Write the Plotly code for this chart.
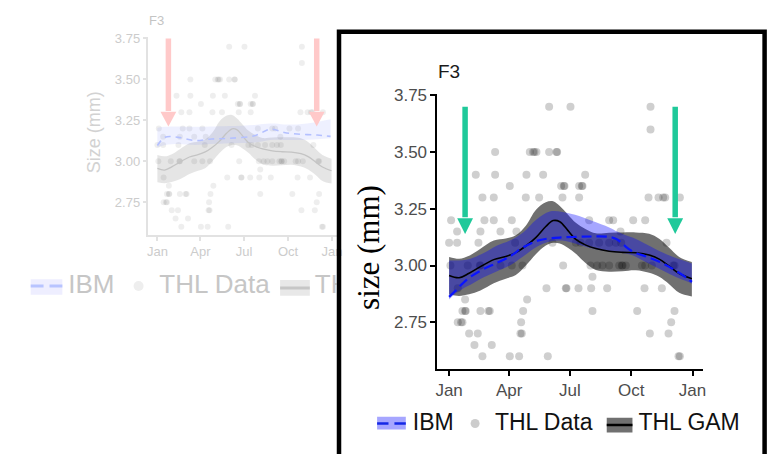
import plotly.graph_objects as go

# ---------------- data ----------------
month_ticks = [0, 90, 181, 273, 365]
month_labels = ["Jan", "Apr", "Jul", "Oct", "Jan"]
size_ticks = [2.75, 3.00, 3.25, 3.50, 3.75]
size_labels = ["2.75", "3.00", "3.25", "3.50", "3.75"]

# THL observations (day of year, size in mm)
thl_day = [150, 182, 302,
           302,
           69, 121, 126, 128, 131, 150, 161, 162,
           40, 69, 116, 141, 204,
           91, 168, 172, 173, 195, 199, 200,
           50, 67, 115, 135, 170, 195, 299, 314, 321, 324, 346,
           3, 53, 67, 94, 210, 240, 246, 276, 294,
           12, 47, 77, 101, 257,
           0, 12, 44, 99, 155, 190, 197, 210, 225, 240, 250, 258, 326,
           2, 28, 46, 47, 77, 94, 110, 171, 212, 222, 230, 240, 255, 259, 260, 265, 289, 294, 304, 336, 338,
           215,
           13, 146, 175, 176, 194, 213, 237, 293, 319,
           24, 117,
           20, 24, 25, 47, 59, 61, 111, 215, 282, 338,
           13, 18, 20, 108, 333,
           30, 43, 107, 109, 301, 329,
           38, 64,
           50, 91, 105, 148, 344, 346]
thl_size = [3.70] * 3 + [3.60] * 1 + [3.50] * 8 + [3.40] * 5 + [3.35] * 7 + [3.30] * 11 + \
           [3.20] * 9 + [3.15] * 5 + [3.10] * 13 + [3.00] * 21 + [2.95] * 1 + [2.90] * 9 + \
           [2.85] * 2 + [2.80] * 10 + [2.75] * 5 + [2.70] * 6 + [2.65] * 2 + [2.60] * 6

# THL GAM fit and confidence band
gam_day = [0, 15, 30, 47, 67, 85, 100, 115, 130, 145, 156, 166, 178, 190, 205, 220, 240, 260, 280, 300, 315, 330, 345, 364]
gam_fit = [2.956, 2.946, 2.966, 2.995, 3.026, 3.040, 3.057, 3.086, 3.123, 3.172, 3.198, 3.193, 3.155, 3.115,
           3.090, 3.075, 3.063, 3.058, 3.056, 3.046, 3.028, 2.997, 2.965, 2.942]
gam_lo = [2.872, 2.866, 2.873, 2.890, 2.922, 2.942, 2.958, 3.000, 3.050, 3.088, 3.100, 3.097, 3.078, 3.052,
          3.010, 2.980, 2.973, 2.975, 2.979, 2.968, 2.950, 2.918, 2.880, 2.864]
gam_hi = [3.038, 3.030, 3.043, 3.074, 3.110, 3.119, 3.133, 3.175, 3.245, 3.279, 3.283, 3.262, 3.225, 3.188,
          3.160, 3.142, 3.145, 3.146, 3.146, 3.140, 3.118, 3.078, 3.038, 3.016]

# IBM (inset) mean and band
ibm_day = [0, 10, 20, 32, 52, 72, 91, 111, 131, 151, 170, 195, 215, 240, 252, 262, 275, 297, 321, 341, 358, 364]
ibm_mean = [2.862, 2.890, 2.920, 2.950, 2.985, 3.012, 3.040, 3.080, 3.108, 3.120, 3.124, 3.127, 3.128, 3.126,
            3.115, 3.090, 3.062, 3.038, 3.009, 2.975, 2.942, 2.928]
ibm_lo = [2.850, 2.878, 2.897, 2.915, 2.948, 2.975, 3.000, 3.040, 3.082, 3.106, 3.110, 3.092, 3.075, 3.062,
          3.058, 3.054, 3.045, 3.012, 2.977, 2.948, 2.928, 2.920]
ibm_hi = [3.022, 3.022, 3.023, 3.030, 3.055, 3.088, 3.110, 3.146, 3.203, 3.238, 3.236, 3.218, 3.196, 3.168,
          3.150, 3.137, 3.123, 3.092, 3.056, 3.032, 3.015, 3.009]

# IBM (faded background panel) mean and band
bg_ibm_day = [0, 16, 44, 79, 113, 150, 203, 237, 265, 292, 334, 362]
bg_ibm_mean = [3.096, 3.146, 3.146, 3.126, 3.136, 3.140, 3.156, 3.196, 3.176, 3.166, 3.160, 3.152]
bg_ibm_lo = [3.085, 3.100, 3.105, 3.100, 3.105, 3.110, 3.115, 3.130, 3.130, 3.130, 3.135, 3.140]
bg_ibm_hi = [3.205, 3.210, 3.212, 3.210, 3.212, 3.215, 3.222, 3.230, 3.225, 3.225, 3.240, 3.256]

# arrows (day, from size, to size)
inset_arrow_day = [24, 339]
inset_arrow_from = 3.70
inset_arrow_to = 3.139
bg_arrow_day = [23, 333]
bg_arrow_from = 3.75
bg_arrow_to = 3.212

legend_labels = ["IBM", "THL Data", "THL GAM"]
panel_title = "F3"
inset_ytitle = "size (mm)"
bg_ytitle = "Size (mm)"

# ---------------- layout helpers ----------------
W, H = 780, 454
SANS = "Liberation Sans, Arial, sans-serif"
SERIF = "Liberation Serif, Times New Roman, serif"


def fx(px):
    return px / W


def fy(py):
    return 1 - py / H


BG = dict(x0=148, x1=338, y0=30, y1=231, xr=[-18.6, 374.4], yr=[2.55, 3.756])
IN = dict(x0=440, x1=708, y0=88, y1=367, xr=[-17.4, 380.3], yr=[2.546, 3.754])

fig = go.Figure()


def add_panel(xa, ya, ibm_d, ibm_m, ibm_l, ibm_h, st):
    fig.add_trace(go.Scatter(x=thl_day, y=thl_size, mode="markers", xaxis=xa, yaxis=ya,
                             marker=dict(size=st["psize"], color=st["pcolor"], line=dict(width=0))))
    fig.add_trace(go.Scatter(x=gam_day, y=gam_lo, mode="lines", xaxis=xa, yaxis=ya,
                             line=dict(width=0, shape="spline"), hoverinfo="skip"))
    fig.add_trace(go.Scatter(x=gam_day, y=gam_hi, mode="lines", xaxis=xa, yaxis=ya, fill="tonexty",
                             fillcolor=st["gamfill"], line=dict(width=0, shape="spline"), hoverinfo="skip"))
    fig.add_trace(go.Scatter(x=ibm_d, y=ibm_l, mode="lines", xaxis=xa, yaxis=ya,
                             line=dict(width=0, shape="spline"), hoverinfo="skip"))
    fig.add_trace(go.Scatter(x=ibm_d, y=ibm_h, mode="lines", xaxis=xa, yaxis=ya, fill="tonexty",
                             fillcolor=st["ibmfill"], line=dict(width=0, shape="spline"), hoverinfo="skip"))
    fig.add_trace(go.Scatter(x=gam_day, y=gam_fit, mode="lines", xaxis=xa, yaxis=ya,
                             line=dict(color=st["gamline"], width=st["gamw"], shape="spline")))
    fig.add_trace(go.Scatter(x=ibm_d, y=ibm_m, mode="lines", xaxis=xa, yaxis=ya,
                             line=dict(color=st["ibmline"], width=st["ibmw"], dash=st["dash"], shape="spline")))


add_panel("x", "y", bg_ibm_day, bg_ibm_mean, bg_ibm_lo, bg_ibm_hi,
          dict(psize=6, pcolor="rgba(0,0,0,0.065)", gamfill="rgba(0,0,0,0.10)", ibmfill="rgba(70,90,255,0.09)",
               gamline="#c4c4c4", gamw=1.3, ibmline="#b4c0ff", ibmw=1.6, dash="6px,5px"))
add_panel("x2", "y2", ibm_day, ibm_mean, ibm_lo, ibm_hi,
          dict(psize=8, pcolor="rgba(0,0,0,0.19)", gamfill="rgba(0,0,0,0.56)", ibmfill="rgba(0,0,255,0.35)",
               gamline="#000000", gamw=1.6, ibmline="#0a14ff", ibmw=2.2, dash="10px,5px"))

shapes = []


def arrows(xa, ya, P, days, top, tip, color, head_len, head_half, shaft):
    ppd = (P["x1"] - P["x0"]) / (P["xr"][1] - P["xr"][0])
    ppu = (P["y1"] - P["y0"]) / (P["yr"][1] - P["yr"][0])
    base = tip + head_len / ppu
    hw = head_half / ppd
    for d in days:
        shapes.append(dict(type="line", xref=xa, yref=ya, x0=d, x1=d, y0=top, y1=base + 0.005,
                           line=dict(color=color, width=shaft), layer="above"))
        shapes.append(dict(type="path", xref=xa, yref=ya, layer="above", fillcolor=color, line=dict(width=0),
                           path=f"M {d - hw},{base} L {d + hw},{base} L {d},{tip} Z"))


arrows("x", "y", BG, bg_arrow_day, bg_arrow_from, bg_arrow_to, "#ffc9c9", 15, 8, 5.5)
arrows("x2", "y2", IN, inset_arrow_day, inset_arrow_from, inset_arrow_to, "#1fc99a", 16, 8, 5.5)

# ---------- legends (pixel-coordinate helper subplots) ----------
LG1 = dict(x0=0, x1=338, y0=250, y1=316)
LG2 = dict(x0=344, x1=767, y0=398, y1=448)


def legend(xa, ya, P, items, fsize, tcolor, dotsize, dotcolor):
    ibm_sw, dot_x, gam_sw, text_x, y = items
    shapes.append(dict(type="rect", xref=xa, yref=ya, x0=ibm_sw[0], x1=ibm_sw[1], y0=ibm_sw[2], y1=ibm_sw[3],
                       fillcolor=ibm_sw[4], line=dict(width=0), layer="below"))
    mid = (ibm_sw[0] + ibm_sw[1]) / 2
    for a, b in [(ibm_sw[0], mid - 3), (mid + 3, ibm_sw[1])]:
        shapes.append(dict(type="line", xref=xa, yref=ya, x0=a, x1=b, y0=y, y1=y,
                           line=dict(color=ibm_sw[5], width=ibm_sw[6]), layer="above"))
    shapes.append(dict(type="rect", xref=xa, yref=ya, x0=gam_sw[0], x1=gam_sw[1], y0=gam_sw[2], y1=gam_sw[3],
                       fillcolor=gam_sw[4], line=dict(width=0), layer="below"))
    gy = (gam_sw[2] + gam_sw[3]) / 2
    shapes.append(dict(type="line", xref=xa, yref=ya, x0=gam_sw[0], x1=gam_sw[1], y0=gy, y1=gy,
                       line=dict(color=gam_sw[5], width=gam_sw[6]), layer="above"))
    fig.add_trace(go.Scatter(x=[dot_x], y=[y], mode="markers", xaxis=xa, yaxis=ya,
                             marker=dict(size=dotsize, color=dotcolor, line=dict(width=0))))
    fig.add_trace(go.Scatter(x=text_x, y=[y + 1] * 3, mode="text", text=legend_labels, xaxis=xa, yaxis=ya,
                             textposition="middle right", cliponaxis=True,
                             textfont=dict(family=SANS, size=fsize, color=tcolor)))


legend("x3", "y3", LG1,
       ((29, 61, 276, 292, "#eeeeff", "#b8c4ff", 3), 138, (281, 311, 277, 293, "#e8e8e8", "#c6c6c6", 3),
        [67, 159, 316], 283),
       26, "#c6c6c6", 10, "#eeeeee")
legend("x4", "y4", LG2,
       ((379, 408, 416, 429, "rgb(166,166,255)", "#1428e6", 2.5), 478, (611, 637, 417, 432, "#707070", "#000000", 2.5),
        [415, 498, 643], 423),
       23, "#111111", 9, "rgba(0,0,0,0.2)")

# inset frame
shapes.append(dict(type="rect", xref="paper", yref="paper", x0=fx(340.5), x1=fx(770.5), y0=fy(480), y1=fy(24.3),
                   line=dict(color="#000000", width=4.5), fillcolor="rgba(0,0,0,0)", layer="above"))

annotations = [
    dict(text=panel_title, x=fx(147), y=fy(13), xref="paper", yref="paper", xanchor="left", yanchor="middle",
         showarrow=False, font=dict(family=SANS, size=13, color="#c4c4c4")),
    dict(text=bg_ytitle, x=fx(92.5), y=fy(127), xref="paper", yref="paper", xanchor="center", yanchor="middle",
         textangle=-90, showarrow=False, font=dict(family=SANS, size=18, color="#d2d2d2")),
    dict(text=panel_title, x=fx(438), y=fy(65), xref="paper", yref="paper", xanchor="left", yanchor="middle",
         showarrow=False, font=dict(family=SANS, size=19, color="#1a1a1a")),
    dict(text=inset_ytitle, x=fx(370), y=fy(244), xref="paper", yref="paper", xanchor="center", yanchor="middle",
         textangle=-90, showarrow=False, font=dict(family=SERIF, size=31, color="#000000")),
]


def axis(dom, rng, tv, tt, lc, lw, tl, fs, fc, anchor):
    return dict(domain=dom, range=rng, tickvals=tv, ticktext=tt, showline=True, linecolor=lc, linewidth=lw,
                ticks="outside", ticklen=tl, tickwidth=lw, tickcolor=lc, showgrid=False, zeroline=False,
                tickfont=dict(family=SANS, size=fs, color=fc), fixedrange=True, anchor=anchor)


hidden = dict(visible=False, showgrid=False, zeroline=False, fixedrange=True)

fig.update_layout(
    width=W, height=H, autosize=False, margin=dict(l=0, r=0, t=0, b=0, pad=0),
    paper_bgcolor="white", plot_bgcolor="rgba(0,0,0,0)", showlegend=False,
    xaxis=axis([fx(BG["x0"]), fx(BG["x1"])], BG["xr"], month_ticks, month_labels, "#e2e2e2", 1.5, 4, 13, "#cccccc", "y"),
    yaxis=axis([fy(BG["y1"]), fy(BG["y0"])], BG["yr"], size_ticks, size_labels, "#e2e2e2", 1.5, 4, 13, "#cccccc", "x"),
    xaxis2=axis([fx(IN["x0"]), fx(IN["x1"])], IN["xr"], month_ticks, month_labels, "#000000", 2, 5, 17, "#4d4d4d", "y2"),
    yaxis2=axis([fy(IN["y1"]), fy(IN["y0"])], IN["yr"], size_ticks, size_labels, "#000000", 2, 5, 17, "#4d4d4d", "x2"),
    xaxis3=dict(hidden, domain=[fx(LG1["x0"]), fx(LG1["x1"])], range=[LG1["x0"], LG1["x1"]], anchor="y3"),
    yaxis3=dict(hidden, domain=[fy(LG1["y1"]), fy(LG1["y0"])], range=[LG1["y1"], LG1["y0"]], anchor="x3"),
    xaxis4=dict(hidden, domain=[fx(LG2["x0"]), fx(LG2["x1"])], range=[LG2["x0"], LG2["x1"]], anchor="y4"),
    yaxis4=dict(hidden, domain=[fy(LG2["y1"]), fy(LG2["y0"])], range=[LG2["y1"], LG2["y0"]], anchor="x4"),
    shapes=shapes, annotations=annotations,
)

fig.write_html(
    "out.html", config={"displayModeBar": False, "responsive": False},
    post_script=("document.documentElement.style.margin='0';document.body.style.margin='0';"
                 "document.body.style.padding='0';document.body.style.overflow='hidden';"
                 "var gd=document.getElementById('{plot_id}');gd.style.position='absolute';"
                 "gd.style.top='0px';gd.style.left='0px';"),
)
